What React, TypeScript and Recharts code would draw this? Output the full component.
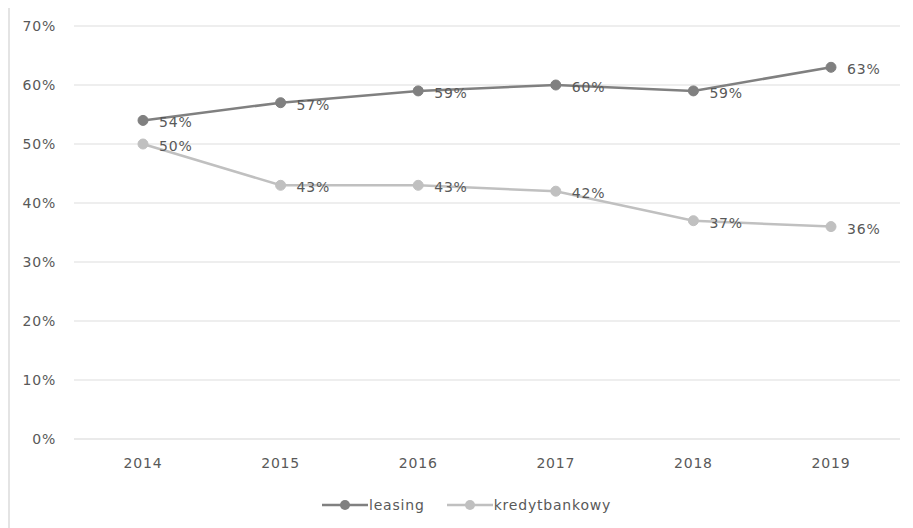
import React from 'react'
import { LineChart, Line, XAxis, YAxis, CartesianGrid, Legend, LabelList } from 'recharts'

const years = ['2014', '2015', '2016', '2017', '2018', '2019']
const leasing = [54, 57, 59, 60, 59, 63]
const kredyt = [50, 43, 43, 42, 37, 36]
const yTicks = [0, 10, 20, 30, 40, 50, 60, 70]

const data = years.map((year, i) => ({ year, leasing: leasing[i], kredyt: kredyt[i] }))

const FONT = '"DejaVu Sans", Verdana, sans-serif'
const DARK = '#808080'
const LIGHT = '#c0c0c0'
const TEXT = '#595959'
const SPACING = 0.8

const legendItems = [
  { name: 'leasing', color: DARK },
  { name: 'kredytbankowy', color: LIGHT },
]

function LegendBox() {
  return (
    <div
      style={{
        display: 'flex',
        paddingTop: 28,
        lineHeight: '16px',
        fontFamily: FONT,
        fontSize: 14,
        letterSpacing: SPACING,
        color: TEXT,
      }}
    >
      {legendItems.map((it) => (
        <div key={it.name} style={{ display: 'flex', alignItems: 'center', marginRight: 22 }}>
          <svg width={46} height={12} style={{ marginRight: 1 }}>
            <line x1={0} y1={6} x2={46} y2={6} stroke={it.color} strokeWidth={2.5} />
            <circle cx={23} cy={6} r={5} fill={it.color} />
          </svg>
          <span>{it.name}</span>
        </div>
      ))}
    </div>
  )
}

const tickStyle = { fill: TEXT, fontSize: 14, fontFamily: FONT, letterSpacing: SPACING }

export default function App() {
  return (
    <div style={{ width: 903, height: 520, borderLeft: '2px solid #e4e4e4' }}>
      <LineChart width={903} height={520} data={data} margin={{ top: 18, right: 13, left: 0, bottom: 10 }}>
        <CartesianGrid vertical={false} stroke="#e8e8e8" strokeWidth={1.5} />
        <XAxis
          dataKey="year"
          padding={{ left: 69, right: 69 }}
          axisLine={{ stroke: '#e8e8e8', strokeWidth: 1.5 }}
          tickLine={false}
          tickSize={0}
          tickMargin={19}
          height={30}
          tick={tickStyle}
        />
        <YAxis
          domain={[0, 70]}
          ticks={yTicks}
          tickFormatter={(v: number) => `${v}%`}
          axisLine={false}
          tickLine={false}
          tickSize={0}
          tickMargin={18}
          width={64}
          tick={tickStyle}
        />
        <Legend
          verticalAlign="bottom"
          content={() => <LegendBox />}
          wrapperStyle={{ left: 312, width: 'auto', height: 49 }}
        />
        <Line
          dataKey="leasing"
          name="leasing"
          stroke={DARK}
          strokeWidth={2.5}
          dot={{ r: 5, fill: DARK, stroke: DARK, strokeWidth: 1 }}
          isAnimationActive={false}
        >
          <LabelList
            dataKey="leasing"
            position="right"
            offset={16}
            formatter={(v: number) => `${v}%`}
            fill={TEXT}
            fontSize={14}
            fontFamily={FONT}
            letterSpacing={SPACING}
            dy={2}
          />
        </Line>
        <Line
          dataKey="kredyt"
          name="kredytbankowy"
          stroke={LIGHT}
          strokeWidth={2.5}
          dot={{ r: 5, fill: LIGHT, stroke: LIGHT, strokeWidth: 1 }}
          isAnimationActive={false}
        >
          <LabelList
            dataKey="kredyt"
            position="right"
            offset={16}
            formatter={(v: number) => `${v}%`}
            fill={TEXT}
            fontSize={14}
            fontFamily={FONT}
            letterSpacing={SPACING}
            dy={2}
          />
        </Line>
      </LineChart>
    </div>
  )
}
